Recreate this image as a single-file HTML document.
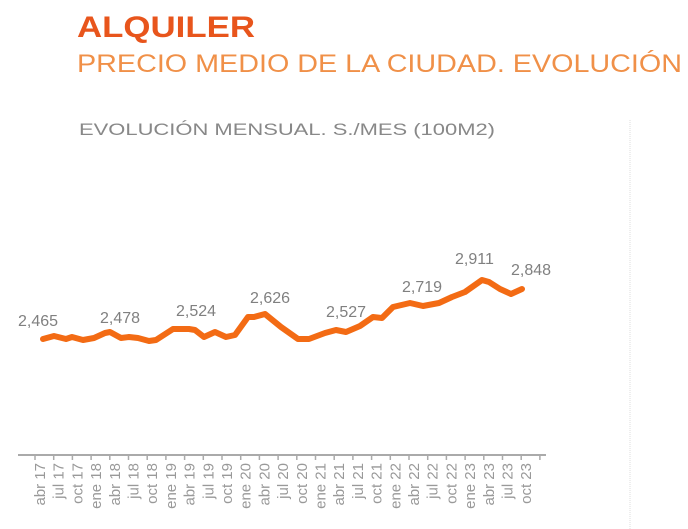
<!DOCTYPE html>
<html><head><meta charset="utf-8"><style>
body{margin:0;background:#fff;width:688px;height:529px;overflow:hidden}
svg{display:block}
</style></head><body>
<svg width="688" height="529" xmlns="http://www.w3.org/2000/svg" font-family="Liberation Sans, sans-serif">
<text x="77" y="37" font-size="30" font-weight="bold" fill="#e8551c" textLength="178" lengthAdjust="spacingAndGlyphs">ALQUILER</text>
<text x="77" y="72" font-size="25" fill="#f09048" textLength="605" lengthAdjust="spacingAndGlyphs">PRECIO MEDIO DE LA CIUDAD. EVOLUCIÓN</text>
<text x="79" y="135" font-size="17" fill="#888" textLength="416" lengthAdjust="spacingAndGlyphs">EVOLUCIÓN MENSUAL. S./MES (100M2)</text>
<line x1="630" y1="120" x2="630" y2="529" stroke="#ddd" stroke-dasharray="1,1"/>
<line x1="18" y1="455" x2="546" y2="455" stroke="#aaa" stroke-width="2"/>
<g stroke="#aaa" stroke-width="1.5" id="ticks"></g>
<g font-size="15" fill="#999" id="labs"></g>
<polyline fill="none" stroke="#f36b14" stroke-width="6" stroke-linejoin="round" stroke-linecap="round" points="43,339 54,336 66,339 72,337 83,340 94,338 105,333 110,332 121,338 129,337 138,338 149,341 156,340 173,329 189,329 195,330 204,337 215,332 226,337 235,335 248,317 254,317 265,314 281,327 298,339 309,339 325,333 336,330 346,332 360,326 373,317 382,318 393,307 410,303 423,306 439,303 452,297 465,292 482,280 489,282 500,289 511,294 522,289"/>
<g font-size="16" fill="#808080">
<text x="18" y="326">2,465</text>
<text x="100" y="323">2,478</text>
<text x="176" y="316">2,524</text>
<text x="250" y="303">2,626</text>
<text x="326" y="317">2,527</text>
<text x="402" y="292">2,719</text>
<text x="455" y="264">2,911</text>
<text x="511" y="275">2,848</text>
</g>
</svg>
<script>
var L=["abr 17","jul 17","oct 17","ene 18","abr 18","jul 18","oct 18","ene 19","abr 19","jul 19","oct 19","ene 20","abr 20","jul 20","oct 20","ene 21","abr 21","jul 21","oct 21","ene 22","abr 22","jul 22","oct 22","ene 23","abr 23","jul 23","oct 23"];
var ns="http://www.w3.org/2000/svg",t=document.getElementById("ticks"),g=document.getElementById("labs");
for(var i=0;i<=27;i++){var x=35+i*18.7;var l=document.createElementNS(ns,"line");l.setAttribute("x1",x);l.setAttribute("x2",x);l.setAttribute("y1",455);l.setAttribute("y2",460);t.appendChild(l);}
for(var i=0;i<27;i++){var x=40+i*18.7+5;var e=document.createElementNS(ns,"text");e.setAttribute("transform","translate("+x+",463) rotate(-90)");e.setAttribute("text-anchor","end");e.textContent=L[i];g.appendChild(e);}
</script>
</body></html>
